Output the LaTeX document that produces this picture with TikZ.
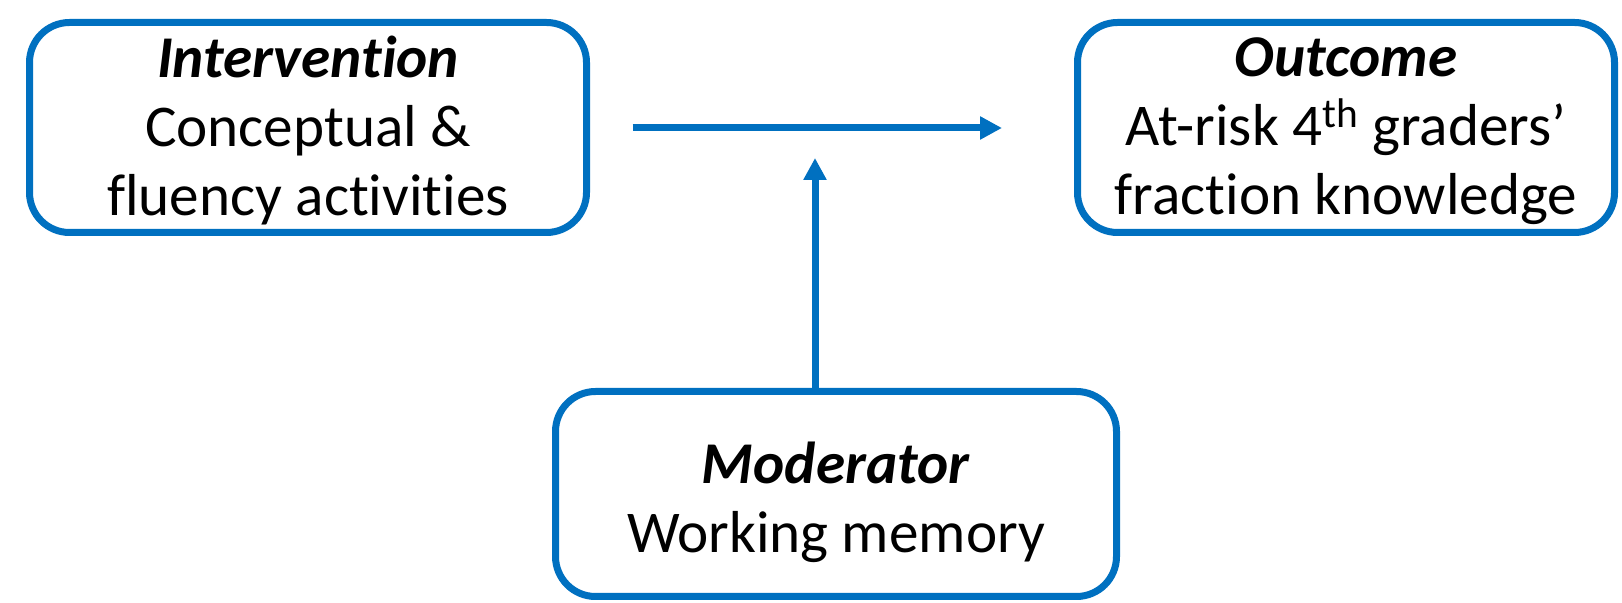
\documentclass[tikz,border=0pt]{standalone}
\usepackage{fontspec}
\setmainfont[Ligatures={NoCommon}]{Carlito}
\usepackage{tikz}
\usetikzlibrary{arrows.meta, calc, positioning}
\definecolor{boxblue}{HTML}{0070C0}

\begin{document}
\begin{tikzpicture}[x=0.5pt,y=-0.5pt,node distance=519pt,on grid,
    box/.style={draw=boxblue,line width=3.5pt,rounded corners=20pt,fill=white,
      align=center,minimum height=105pt,inner sep=0pt,
      font=\fontsize{29.6}{34.5}\selectfont},
    link/.style={draw=boxblue,line width=3.5pt,-{Triangle[length=11pt,width=11pt]}}]
    \useasboundingbox (0,0) rectangle (1622,603);

      \node[box,minimum width=278.5pt] (interv) at (308,127.5)
        {\rule{0pt}{23.5pt}\textbf{\textit{Intervention}}\\Conceptual \&\\fluency activities};
      \node[box,minimum width=268.5pt] (outcome) [right=of interv]
        {\rule{0pt}{23.5pt}\textbf{\textit{Outcome}}\\At-risk 4\textsuperscript{th} graders’\\fraction knowledge};
      \node[box,minimum width=280.5pt,minimum height=102.5pt] (moder) at (836,494)
        {\rule{0pt}{29.5pt}\textbf{\textit{Moderator}}\\Working memory};
      \coordinate (join) at (815,128);

      \draw[link,shorten <=21.25pt,shorten >=36pt] (interv.east |- join) -- (outcome.west |- join);
      \draw[link,shorten >=15pt] (moder.north -| join) -- (join);
    \end{tikzpicture}
\end{document}
